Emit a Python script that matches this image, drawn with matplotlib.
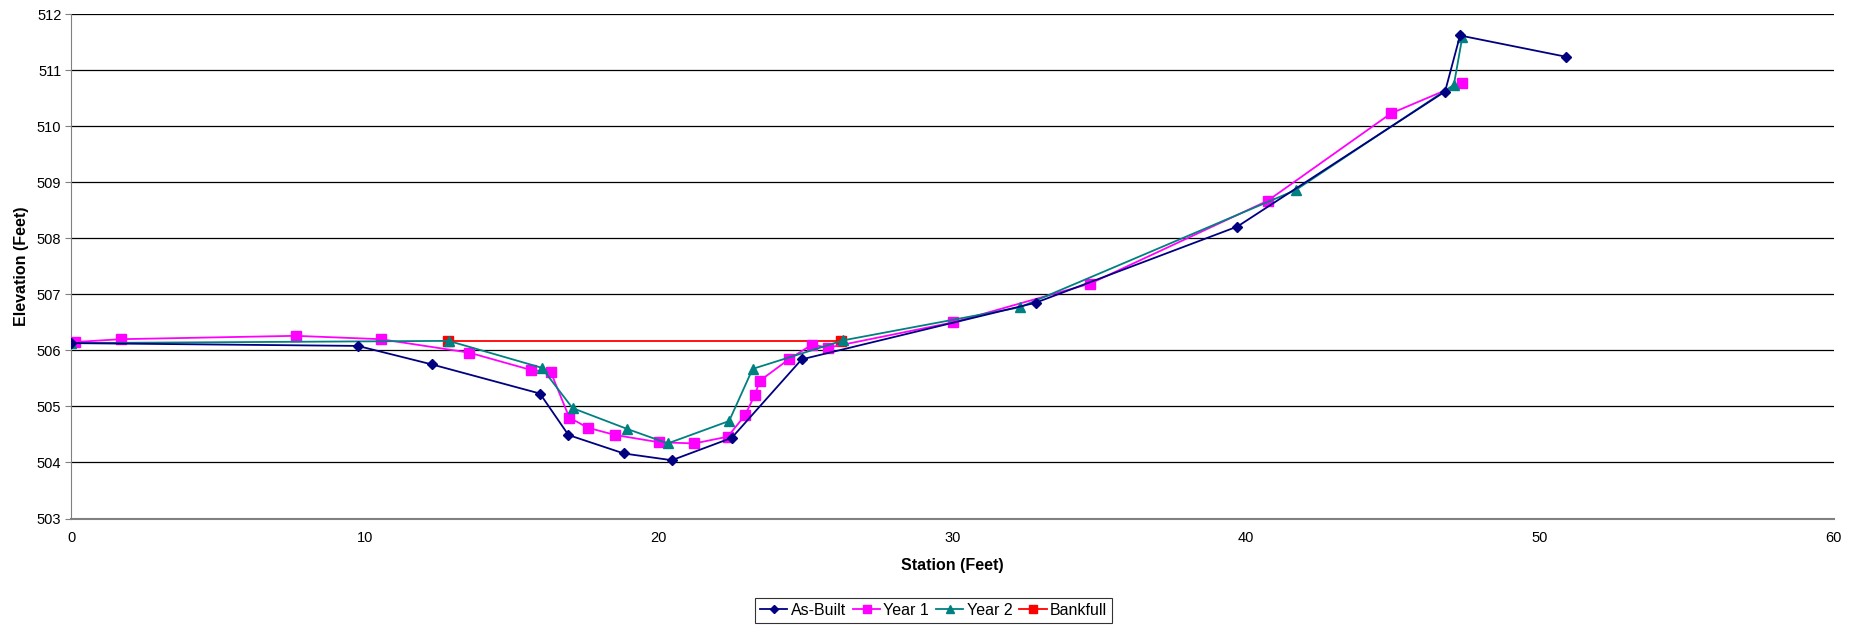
import matplotlib
matplotlib.use("Agg")
import matplotlib.pyplot as plt

plt.rcParams['font.family'] = ['Liberation Sans', 'DejaVu Sans']

asbuilt_x = [0, 9.76, 12.28, 15.96, 16.93, 18.82, 20.45, 22.49, 24.87, 32.83, 39.70, 46.77, 47.28, 50.89]
asbuilt_y = [506.13, 506.08, 505.75, 505.23, 504.49, 504.16, 504.04, 504.44, 505.84, 506.85, 508.21, 510.62, 511.62, 511.24]

year1_x = [0.15, 1.70, 7.64, 10.54, 13.55, 15.66, 16.33, 16.96, 17.59, 18.52, 20.02, 21.22, 22.35,
           22.94, 23.27, 23.45, 24.43, 25.21, 25.78, 30.02, 34.68, 40.73, 44.93, 47.36]
year1_y = [506.15, 506.20, 506.26, 506.20, 505.96, 505.65, 505.61, 504.80, 504.62, 504.49, 504.36, 504.34, 504.46,
           504.84, 505.20, 505.46, 505.84, 506.10, 506.05, 506.50, 507.19, 508.67, 510.23, 510.77]

year2_x = [0, 12.85, 16.02, 17.07, 18.92, 20.31, 22.40, 23.20, 26.29, 32.30, 41.68, 47.07, 47.36]
year2_y = [506.13, 506.17, 505.69, 504.97, 504.60, 504.34, 504.74, 505.67, 506.18, 506.77, 508.86, 510.74, 511.60]

bankfull_x = [12.82, 26.20]
bankfull_y = [506.17, 506.17]

fig = plt.figure(figsize=(18.56, 6.25), dpi=100)
ax = fig.add_axes([0.0383, 0.1704, 0.9497, 0.8069])

ax.plot(asbuilt_x, asbuilt_y, color='#000080', marker='D', markersize=5, lw=1.3, label='As-Built', zorder=5)
ax.plot(year1_x, year1_y, color='#FF00FF', marker='s', markersize=6.5, lw=1.3, label='Year 1', zorder=3)
ax.plot(year2_x, year2_y, color='#008080', marker='^', markersize=7, lw=1.3, label='Year 2', zorder=4)
ax.plot(bankfull_x, bankfull_y, color='#FF0000', marker='s', markersize=6.5, lw=1.3, label='Bankfull', zorder=2)

ax.set_xlim(0, 60)
ax.set_ylim(503, 512)
ax.set_xticks(range(0, 61, 10))
ax.set_yticks(range(503, 513))
ax.grid(axis='y', color='black', lw=0.9)
ax.set_axisbelow(True)

for s in ['top', 'right']:
    ax.spines[s].set_visible(False)
ax.spines['left'].set_color('#808080')
ax.spines['bottom'].set_color('#808080')
ax.spines['bottom'].set_linewidth(1.5)
ax.tick_params(axis='y', length=4, color='#808080', labelsize=10.5, pad=3)
ax.tick_params(axis='x', length=0, labelsize=10.5, pad=9)

ax.set_xlabel('Station (Feet)', fontsize=11.5, fontweight='bold', labelpad=9.5)
ax.set_ylabel('Elevation (Feet)', fontsize=11.5, fontweight='bold', labelpad=6)

leg = fig.legend(loc='lower center', bbox_to_anchor=(0.503, 0.0), ncol=4, fontsize=11.5,
                 frameon=True, fancybox=False, edgecolor='black', handlelength=1.7,
                 handletextpad=0.2, columnspacing=0.45, borderpad=0.3, borderaxespad=0.15,
                 markerscale=0.8)
leg.get_frame().set_linewidth(0.8)

fig.savefig('out.png', dpi=100)
